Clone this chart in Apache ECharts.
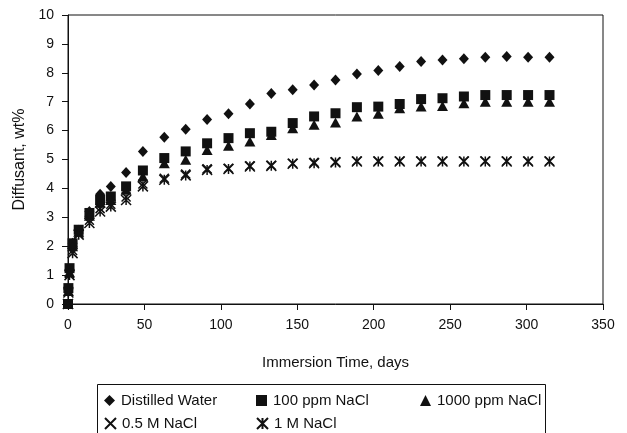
<!DOCTYPE html>
<html>
<head>
<meta charset="utf-8">
<script src="https://cdn.jsdelivr.net/npm/echarts@6/dist/echarts.min.js"></script>
<style>
  html, body { margin: 0; padding: 0; background: #fff; }
  #chart { width: 627px; height: 433px; }
</style>
</head>
<body>
<div id="chart"></div>
<script>
// immersion time, days
const days = [0, 0.25, 1, 3, 7, 14, 21, 28, 38, 49, 63, 77, 91, 105, 119, 133, 147, 161, 175, 189, 203, 217, 231, 245, 259, 273, 287, 301, 315];

// diffusant, wt%
const distilledWater = [0, 0.5, 1.2, 2.1, 2.55, 3.2, 3.8, 4.07, 4.55, 5.28, 5.77, 6.05, 6.38, 6.58, 6.92, 7.28, 7.41, 7.58, 7.75, 7.96, 8.08, 8.22, 8.39, 8.44, 8.49, 8.54, 8.56, 8.54, 8.54];
const ppm100 = [0, 0.55, 1.24, 2.1, 2.57, 3.15, 3.6, 3.72, 4.07, 4.62, 5.05, 5.28, 5.56, 5.74, 5.91, 5.96, 6.26, 6.49, 6.6, 6.81, 6.83, 6.92, 7.09, 7.12, 7.18, 7.23, 7.23, 7.23, 7.23];
const ppm1000 = [0, 0.45, 1.1, 2.0, 2.5, 3.05, 3.5, 3.6, 3.95, 4.41, 4.87, 4.99, 5.33, 5.48, 5.62, 5.85, 6.08, 6.2, 6.28, 6.49, 6.58, 6.77, 6.83, 6.85, 6.95, 7.0, 7.0, 7.0, 7.0];
const nacl05M = [0, 0.45, 1.05, 1.85, 2.45, 2.9, 3.3, 3.45, 3.7, 4.15, 4.35, 4.5, 4.68, 4.7, 4.78, 4.8, 4.87, 4.9, 4.92, 4.95, 4.95, 4.95, 4.95, 4.95, 4.95, 4.95, 4.95, 4.95, 4.95];
const nacl1M = [0, 0.4, 1.0, 1.76, 2.4, 2.8, 3.2, 3.37, 3.6, 4.07, 4.3, 4.45, 4.64, 4.67, 4.76, 4.78, 4.85, 4.87, 4.9, 4.93, 4.93, 4.93, 4.93, 4.93, 4.93, 4.93, 4.93, 4.93, 4.93];

const seriesNames = ['Distilled Water', '100 ppm NaCl', '1000 ppm NaCl', '0.5 M NaCl', '1 M NaCl'];

const font = 'Liberation Sans, Arial, sans-serif';
const ink = '#111';

const xPath = 'path://M0,0L10,10M10,0L0,10';
const starPath = 'path://M0,0L10,10M10,0L0,10M5,0L5,10';

function pairs(vals) {
    return days.map((d, i) => [d, vals[i]]);
}

const chart = echarts.init(document.getElementById('chart'), null, { renderer: 'canvas' });

// 每个图例单独定位，模仿原图的三列排布
const legendPos = [
    { left: 104, top: 393 },
    { left: 256, top: 393 },
    { left: 420, top: 393 },
    { left: 104, top: 416 },
    { left: 256, top: 416 }
];

const option = {
    backgroundColor: '#fff',
    animation: false,
    grid: {
        left: 68, right: 24, top: 15, bottom: 129,
        show: true, borderColor: ink, borderWidth: 1
    },
    xAxis: {
        type: 'value', min: 0, max: 350, interval: 50,
        name: 'Immersion Time, days', nameLocation: 'middle', nameGap: 51,
        nameTextStyle: { fontFamily: font, fontSize: 15, color: ink },
        axisLine: { lineStyle: { color: ink, width: 1 } },
        axisTick: { inside: false, length: 6, lineStyle: { color: ink } },
        axisLabel: { fontFamily: font, fontSize: 14, color: ink, margin: 14 },
        splitLine: { show: false }
    },
    yAxis: {
        type: 'value', min: 0, max: 10, interval: 1,
        name: 'Diffusant, wt%', nameLocation: 'middle', nameGap: 39,
        nameTextStyle: { fontFamily: font, fontSize: 16, color: ink },
        axisLine: { show: true, lineStyle: { color: ink, width: 1 } },
        axisTick: { show: true, inside: false, length: 6, lineStyle: { color: ink } },
        axisLabel: { fontFamily: font, fontSize: 14, color: ink, margin: 14 },
        splitLine: { show: false }
    },
    legend: legendPos.map((p, i) => ({
        data: [seriesNames[i]],
        left: p.left, top: p.top,
        itemWidth: 11, itemHeight: 11, itemGap: 4,
        padding: 0,
        itemStyle: { opacity: 1 },
        textStyle: { fontFamily: font, fontSize: 15, color: ink, padding: [0, 0, 0, 1] }
    })),
    graphic: [{
        type: 'rect',
        left: 95, top: 382,
        shape: { width: 448, height: 50 },
        style: { fill: 'none', stroke: ink, lineWidth: 1 }
    }],
    series: [
        {
            name: seriesNames[0], type: 'scatter', data: pairs(distilledWater),
            symbol: 'diamond', symbolSize: [10, 11],
            itemStyle: { color: ink, opacity: 1 }
        },
        {
            name: seriesNames[1], type: 'scatter', data: pairs(ppm100),
            symbol: 'rect', symbolSize: 10,
            itemStyle: { color: ink, opacity: 1 }
        },
        {
            name: seriesNames[2], type: 'scatter', data: pairs(ppm1000),
            symbol: 'triangle', symbolSize: [11, 10],
            itemStyle: { color: ink, opacity: 1 }
        },
        {
            name: seriesNames[3], type: 'scatter', data: pairs(nacl05M),
            symbol: xPath, symbolSize: 9,
            itemStyle: { color: 'rgba(0,0,0,0)', borderColor: ink, borderWidth: 1.5, opacity: 1 }
        },
        {
            name: seriesNames[4], type: 'scatter', data: pairs(nacl1M),
            symbol: starPath, symbolSize: 10,
            itemStyle: { color: 'rgba(0,0,0,0)', borderColor: ink, borderWidth: 1.5, opacity: 1 }
        }
    ]
};

chart.setOption(option);
</script>
</body>
</html>
